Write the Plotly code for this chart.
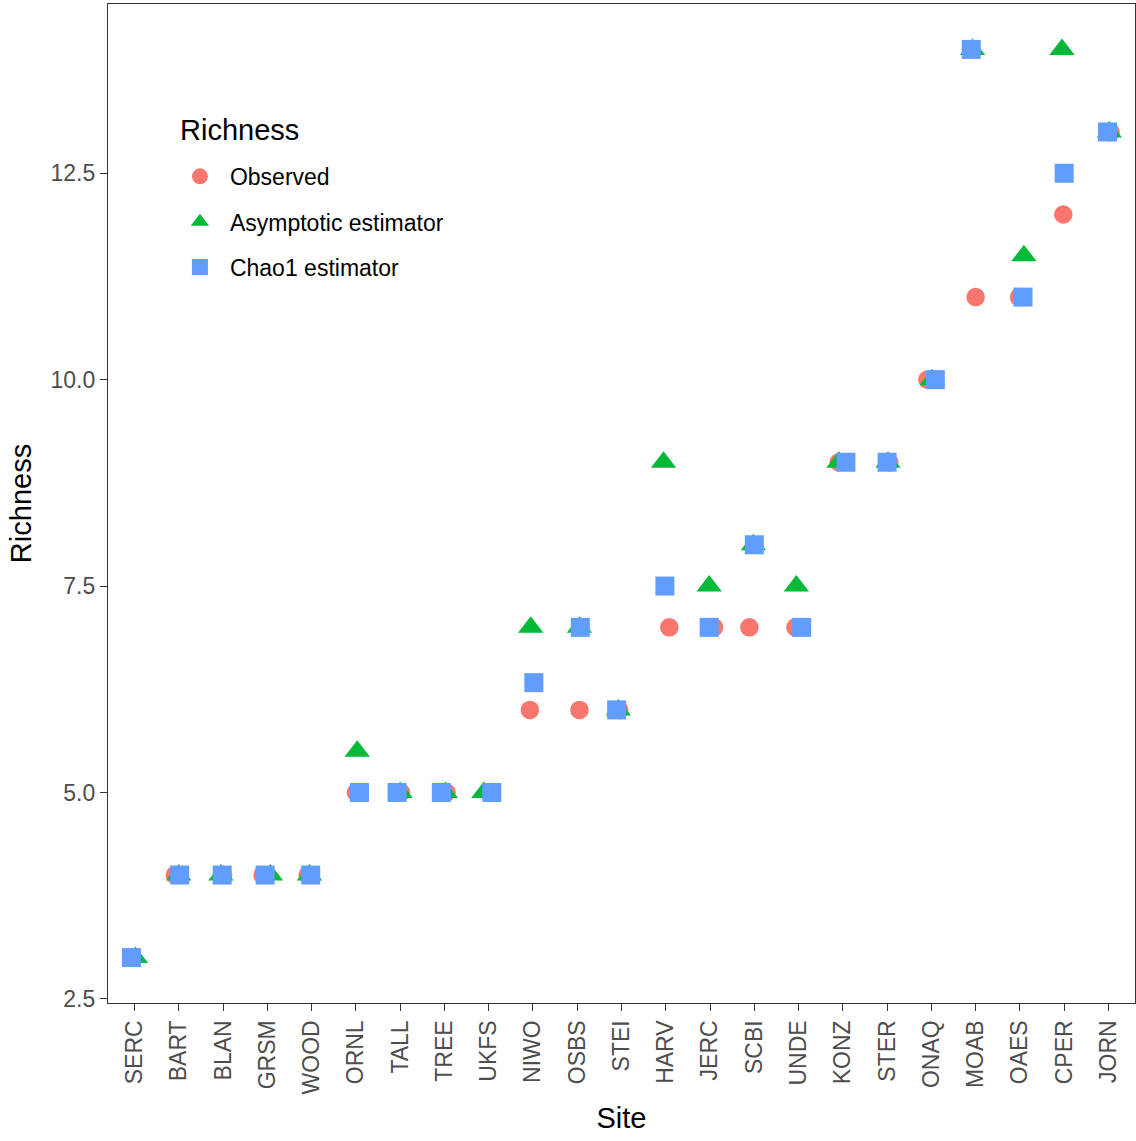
import plotly.graph_objects as go

sites = ["SERC", "BART", "BLAN", "GRSM", "WOOD", "ORNL", "TALL", "TREE", "UKFS",
         "NIWO", "OSBS", "STEI", "HARV", "JERC", "SCBI", "UNDE", "KONZ", "STER",
         "ONAQ", "MOAB", "OAES", "CPER", "JORN"]
observed = [3, 4, 4, 4, 4, 5, 5, 5, 5, 6, 6, 6, 7, 7, 7, 7, 9, 9, 10, 11, 11, 12, 13]
asymptotic = [3, 4, 4, 4, 4, 5.5, 5, 5, 5, 7, 7, 6, 9, 7.5, 8, 7.5, 9, 9, 10, 14, 11.5, 14, 13]
chao1 = [3, 4, 4, 4, 4, 5, 5, 5, 5, 6.33, 7, 6, 7.5, 7, 8, 7, 9, 9, 10, 14, 11, 12.5, 13]

# horizontal jitter (fraction of one category step)
jit_obs = [-0.05, -0.09, 0.0, -0.11, -0.09, 0.0, 0.02, 0.05, 0.0, -0.07, 0.05, -0.05,
           0.08, 0.09, -0.11, -0.07, -0.09, 0.05, -0.09, 0.0, -0.02, -0.02, 0.05]
jit_asy = [0.02, 0.0, -0.05, 0.07, -0.05, 0.03, 0.0, 0.02, -0.11, -0.05, 0.05, -0.07,
           -0.05, -0.02, -0.02, -0.05, -0.09, 0.02, 0.02, -0.07, 0.09, -0.05, 0.02]
jit_chao = [-0.07, 0.02, -0.02, -0.05, -0.02, 0.08, -0.07, -0.07, 0.07, 0.02, 0.07, -0.11,
            -0.02, -0.02, 0.0, 0.07, 0.07, 0.0, 0.09, -0.1, 0.07, 0.0, -0.02]

series = [
    ("Observed", observed, jit_obs, "circle", "#F8766D", 18.5),
    ("Asymptotic estimator", asymptotic, jit_asy, "triangle-up", "#00BA38", 22),
    ("Chao1 estimator", chao1, jit_chao, "square", "#619CFF", 19),
]

fig = go.Figure()
for i, (name, vals, jit, sym, col, sz) in enumerate(series):
    fig.add_trace(go.Scatter(
        x=[k + j for k, j in enumerate(jit)], y=vals, mode="markers", name=name,
        legendgroup=name,
        marker=dict(symbol=sym, color=col, size=sz, line=dict(width=0)),
    ))

font_main = "Liberation Sans, Arial, sans-serif"
fig.update_layout(
    width=1136, height=1141,
    margin=dict(l=108, r=1, t=4, b=138),
    plot_bgcolor="white", paper_bgcolor="white",
    font=dict(family=font_main, color="black"),
    showlegend=True,
    legend=dict(
        x=0.0603, y=0.849, xanchor="left", yanchor="top",
        font=dict(size=23, color="black"), itemwidth=50,
        tracegroupgap=12.5, bgcolor="rgba(0,0,0,0)",
    ),
    annotations=[dict(
        text="Richness", xref="paper", yref="paper", x=0.0685, y=0.874,
        xanchor="left", yanchor="middle", showarrow=False,
        font=dict(size=29, color="black"),
    )],
    xaxis=dict(
        range=[-0.6, 22.6], tickmode="array", tickvals=list(range(len(sites))),
        ticktext=sites, tickangle=-90, showgrid=False, zeroline=False,
        showline=True, mirror=True, linecolor="#333333", linewidth=1.3,
        ticks="outside", ticklen=7, tickwidth=1.3, tickcolor="#333333",
        tickfont=dict(size=23, color="#4D4D4D"),
        title=dict(text="Site", font=dict(size=29, color="black"), standoff=14),
    ),
    yaxis=dict(
        range=[2.45, 14.55], tickmode="array", tickvals=[2.5, 5, 7.5, 10, 12.5],
        ticktext=["2.5", "5.0", "7.5", "10.0", "12.5"], showgrid=False, zeroline=False,
        showline=True, mirror=True, linecolor="#333333", linewidth=1.3,
        ticks="outside", ticklen=7, tickwidth=1.3, tickcolor="#333333",
        tickfont=dict(size=23, color="#4D4D4D"),
        title=dict(text="Richness", font=dict(size=29, color="black"), standoff=10),
    ),
)
fig.write_html("out.html")
